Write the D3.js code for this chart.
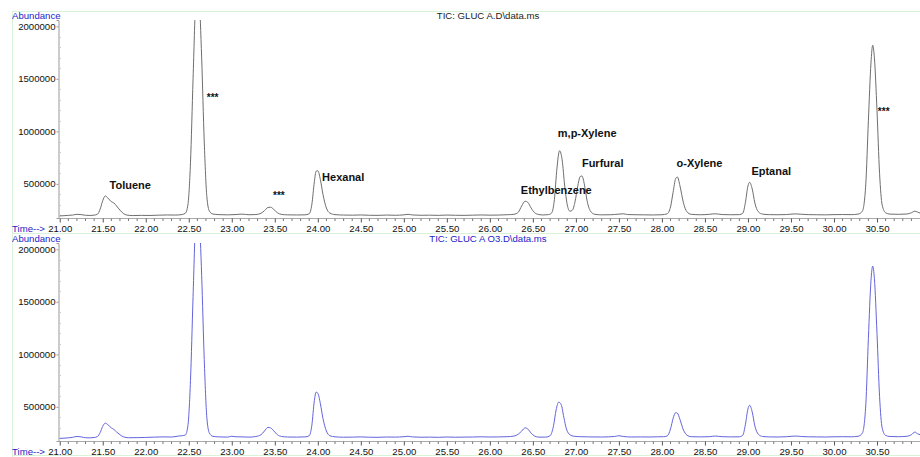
<!DOCTYPE html>
<html>
<head>
<meta charset="utf-8">
<script src="https://cdn.jsdelivr.net/npm/d3@7"></script>
<style>
  html, body { margin: 0; padding: 0; background: #fff; }
  svg { display: block; font-family: "Liberation Sans", Arial, sans-serif; }
</style>
</head>
<body>
<svg id="chart" width="920" height="457"></svg>
<script>
// Retention times (min) and abundances for the untreated sample
const timeTop = [
  21.00,21.05,21.10,21.15,21.20,21.25,21.30,21.35,21.40,21.44,21.47,21.50,21.53,21.56,21.60,21.63,21.66,21.70,21.74,21.78,21.85,21.95,
  22.05,22.15,22.25,22.35,22.42,22.46,22.49,22.52,22.55,22.58,22.60,22.62,22.65,22.68,22.71,22.74,22.78,22.85,22.95,
  23.05,23.12,23.20,23.28,23.34,23.38,23.42,23.45,23.49,23.53,23.58,23.65,23.75,23.85,23.90,23.93,23.96,23.98,
  24.00,24.03,24.06,24.10,24.14,24.20,24.30,24.40,24.50,24.60,24.70,24.80,24.90,
  25.00,25.05,25.10,25.20,25.30,25.40,25.50,25.60,25.70,25.80,25.90,
  26.00,26.10,26.20,26.28,26.33,26.37,26.41,26.44,26.48,26.52,26.57,26.62,26.68,26.72,26.75,26.78,26.81,26.84,26.87,26.90,26.93,26.96,26.99,
  27.02,27.05,27.07,27.10,27.13,27.17,27.22,27.30,27.40,27.50,27.55,27.60,27.70,27.80,27.90,
  28.00,28.06,28.10,28.13,28.16,28.18,28.21,28.25,28.29,28.34,28.45,28.55,28.62,28.70,28.80,28.90,28.94,28.97,
  29.00,29.02,29.05,29.08,29.12,29.17,29.25,29.35,29.45,29.55,29.62,29.70,29.80,29.90,
  30.00,30.10,30.20,30.28,30.33,30.37,30.40,30.43,30.45,30.47,30.50,30.53,30.56,30.60,30.65,30.75,30.85,30.90,30.94,30.97,31.00
];
const abundanceTop = [
  195000,197000,200000,203000,210000,207000,201000,199000,202000,212000,260000,340000,385000,365000,330000,318000,290000,250000,218000,203000,198000,200000,
  199000,202000,204000,203000,208000,220000,300000,700000,1500000,2250000,2450000,2300000,1700000,900000,380000,240000,213000,207000,205000,
  208000,212000,206000,208000,220000,245000,275000,278000,255000,225000,209000,205000,204000,205000,215000,300000,520000,620000,
  625000,540000,400000,270000,222000,207000,203000,202000,204000,201000,200000,203000,201000,
  205000,210000,204000,201000,202000,200000,203000,201000,200000,202000,204000,
  202000,203000,206000,210000,230000,290000,335000,325000,270000,225000,208000,204000,207000,225000,350000,650000,815000,730000,480000,300000,240000,250000,330000,
  470000,570000,575000,490000,340000,240000,210000,205000,206000,212000,215000,208000,206000,205000,204000,
  206000,215000,280000,420000,550000,565000,480000,320000,235000,210000,206000,210000,215000,208000,206000,207000,220000,320000,
  480000,515000,450000,320000,235000,212000,207000,206000,208000,214000,211000,207000,206000,205000,
  207000,208000,207000,212000,240000,500000,1100000,1650000,1820000,1700000,1200000,600000,300000,225000,212000,210000,213000,225000,240000,232000,222000
];

// Retention times (min) and abundances for the ozone-treated sample
const timeBottom = [
  21.00,21.05,21.10,21.15,21.20,21.25,21.30,21.35,21.40,21.44,21.47,21.50,21.53,21.56,21.60,21.63,21.66,21.70,21.74,21.80,21.90,
  22.00,22.10,22.20,22.30,22.38,22.42,22.46,22.49,22.52,22.55,22.58,22.60,22.62,22.65,22.68,22.71,22.74,22.78,22.85,22.95,
  23.00,23.05,23.12,23.20,23.28,23.34,23.38,23.42,23.45,23.49,23.53,23.58,23.65,23.75,23.85,23.90,23.93,23.96,23.98,
  24.00,24.03,24.06,24.10,24.14,24.20,24.30,24.40,24.50,24.60,24.70,24.80,24.90,
  25.00,25.05,25.10,25.20,25.30,25.40,25.50,25.60,25.70,25.80,25.90,
  26.00,26.10,26.20,26.28,26.33,26.37,26.41,26.44,26.48,26.52,26.57,26.65,26.70,26.74,26.77,26.80,26.83,26.86,26.89,26.93,26.98,
  27.05,27.15,27.30,27.45,27.50,27.55,27.65,27.75,27.85,27.95,
  28.02,28.06,28.10,28.13,28.16,28.18,28.21,28.25,28.29,28.34,28.45,28.55,28.62,28.70,28.80,28.90,28.94,28.97,
  29.00,29.02,29.05,29.08,29.12,29.17,29.25,29.35,29.45,29.55,29.62,29.70,29.80,29.90,
  30.00,30.10,30.20,30.28,30.33,30.37,30.40,30.43,30.45,30.47,30.50,30.53,30.56,30.60,30.65,30.75,30.85,30.90,30.94,30.97,31.00
];
const abundanceBottom = [
  200000,202000,205000,210000,218000,214000,206000,205000,208000,218000,255000,315000,345000,330000,300000,285000,262000,235000,215000,206000,207000,
  209000,212000,214000,213000,222000,225000,232000,320000,750000,1550000,2300000,2500000,2350000,1750000,950000,400000,250000,220000,214000,212000,
  220000,215000,214000,212000,218000,235000,270000,305000,300000,270000,235000,218000,213000,212000,214000,225000,320000,560000,640000,
  630000,530000,390000,270000,225000,215000,211000,212000,214000,211000,210000,213000,212000,
  216000,220000,214000,211000,212000,210000,213000,211000,212000,213000,215000,
  213000,214000,216000,222000,240000,270000,300000,290000,250000,222000,212000,212000,225000,320000,470000,545000,520000,400000,290000,235000,220000,
  216000,214000,213000,218000,225000,218000,213000,214000,213000,215000,
  216000,222000,290000,390000,445000,440000,380000,280000,232000,216000,214000,216000,222000,216000,214000,215000,230000,330000,
  480000,515000,450000,320000,240000,218000,214000,213000,216000,222000,218000,215000,214000,213000,
  215000,216000,215000,220000,250000,520000,1150000,1700000,1840000,1720000,1200000,600000,300000,228000,218000,216000,220000,235000,260000,245000,235000
];

// Compound annotations for the upper trace
const peakNames = ["Toluene", "Hexanal", "Ethylbenzene", "m,p-Xylene", "Furfural", "o-Xylene", "Eptanal"];
const peakNameTimes = [21.58, 24.05, 26.36, 26.79, 27.07, 28.17, 29.04];
const peakNameLevels = [455000, 530000, 405000, 950000, 665000, 665000, 580000];
const starTimes = [22.71, 23.48, 30.51];
const starLevels = [1290000, 360000, 1160000];

const yTicks = [500000, 1000000, 1500000, 2000000];
const titles = ["TIC: GLUC A.D\\data.ms", "TIC: GLUC A O3.D\\data.ms"];

const svg = d3.select("#chart");
const W = 920;
const blue = "#2323c8";

// Light green frame around the report
const frame = "#d9f3d9";
svg.append("line").attr("x1", 12).attr("x2", W).attr("y1", 11.5).attr("y2", 11.5).attr("stroke", frame);
svg.append("line").attr("x1", 12.5).attr("x2", 12.5).attr("y1", 11).attr("y2", 457).attr("stroke", frame);
svg.append("line").attr("x1", 12).attr("x2", W).attr("y1", 233.5).attr("y2", 233.5).attr("stroke", frame);
svg.append("line").attr("x1", 12).attr("x2", W).attr("y1", 455.5).attr("y2", 455.5).attr("stroke", frame);

const x = d3.scaleLinear().domain([20.98, 31.0]).range([58, 920]);

function panel(top, times, values, color, title, titleColor, idx) {
  const plotTop = top, plotBottom = top + 198;
  const y = d3.scaleLinear().domain([175000, 2060000]).range([plotBottom, plotTop]);
  const g = svg.append("g");

  const clipId = "clip" + idx;
  g.append("clipPath").attr("id", clipId)
    .append("rect").attr("x", 58).attr("y", plotTop).attr("width", W - 58).attr("height", plotBottom - plotTop + 1);

  // Axis captions
  g.append("text").attr("x", 12).attr("y", top - 1).attr("font-size", 9.6).attr("fill", blue).text("Abundance");
  g.append("text").attr("x", 488).attr("y", top - 1).attr("text-anchor", "middle").attr("font-size", 9.6)
    .attr("fill", titleColor).text(title);
  g.append("text").attr("x", 12).attr("y", plotBottom + 14).attr("font-size", 9.6).attr("fill", blue).text("Time-->");

  // Y axis
  const yAxis = d3.axisLeft(y).tickValues(yTicks).tickSize(2).tickPadding(1).tickFormat(d3.format("d"));
  const ya = g.append("g").attr("transform", "translate(58.5,0)").call(yAxis);
  ya.select(".domain").attr("stroke", "#999");
  ya.selectAll(".tick line").attr("stroke", "#999");
  ya.selectAll("text").attr("font-size", 9.6).attr("fill", "#111").attr("font-family", "Liberation Sans, Arial, sans-serif");
  const yMinor = d3.range(200000, 2060000, 100000).filter(v => !yTicks.includes(v));
  g.append("g").selectAll("line").data(yMinor).join("line")
    .attr("x1", 58.5).attr("x2", 61).attr("y1", d => Math.round(y(d)) + 0.5).attr("y2", d => Math.round(y(d)) + 0.5)
    .attr("stroke", "#ccc");

  // X axis
  const xMajor = d3.range(21.0, 30.51, 0.5);
  const xAxis = d3.axisBottom(x).tickValues(xMajor).tickSize(4).tickPadding(3).tickFormat(d3.format(".2f"));
  const xa = g.append("g").attr("transform", `translate(0,${plotBottom + 0.5})`).call(xAxis);
  xa.select(".domain").attr("stroke", "#aaa").attr("d", `M58,0H${W}`);
  xa.selectAll(".tick line").attr("stroke", "#555");
  xa.selectAll("text").attr("font-size", 9.6).attr("fill", "#111").attr("font-family", "Liberation Sans, Arial, sans-serif");
  const xMinor = d3.range(21.1, 31.0, 0.1).filter(t => Math.abs(t * 2 - Math.round(t * 2)) > 0.01);
  g.append("g").selectAll("line").data(xMinor).join("line")
    .attr("x1", d => x(d)).attr("x2", d => x(d)).attr("y1", plotBottom + 0.5).attr("y2", plotBottom + 3)
    .attr("stroke", "#777");

  // Trace
  const pts = times.map((t, i) => [t, values[i]]);
  const line = d3.line().x(d => x(d[0])).y(d => y(d[1])).curve(d3.curveMonotoneX);
  g.append("path").datum(pts).attr("clip-path", `url(#${clipId})`)
    .attr("fill", "none").attr("stroke", color).attr("stroke-width", 1).attr("d", line);

  return y;
}

const yTop = panel(20, timeTop, abundanceTop, "#6e6e6e", titles[0], "#222", 0);
panel(243, timeBottom, abundanceBottom, "#6464dc", titles[1], blue, 1);

// Compound names and significance marks on the upper trace
const lab = svg.append("g").attr("font-weight", "bold").attr("fill", "#111");
lab.selectAll("text.name").data(peakNames).join("text").attr("class", "name")
  .attr("x", (d, i) => x(peakNameTimes[i])).attr("y", (d, i) => yTop(peakNameLevels[i]))
  .attr("font-size", 11).text(d => d);
lab.selectAll("text.star").data(starTimes).join("text").attr("class", "star")
  .attr("x", d => x(d)).attr("y", (d, i) => yTop(starLevels[i]))
  .attr("font-size", 10).text("***");
</script>
</body>
</html>
